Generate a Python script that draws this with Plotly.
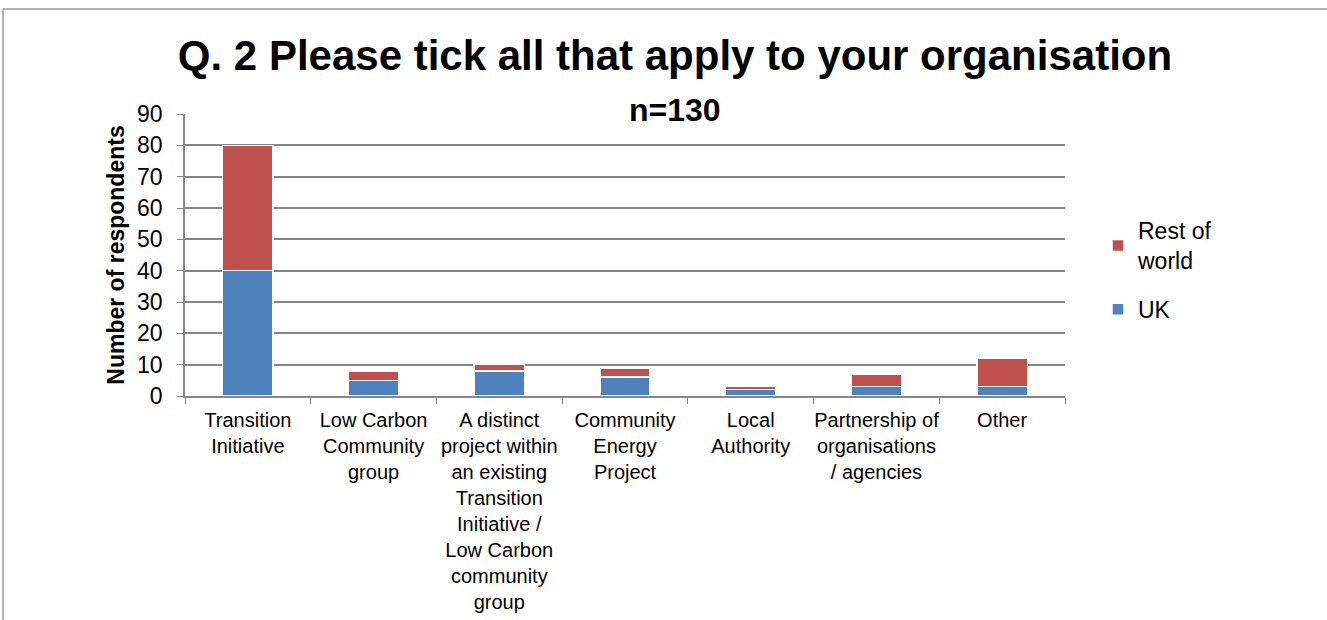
import plotly.graph_objects as go

# data
categories = ["Transition<br>Initiative", "Low Carbon<br>Community<br>group",
              "A distinct<br>project within<br>an existing<br>Transition<br>Initiative /<br>Low Carbon<br>community<br>group",
              "Community<br>Energy<br>Project", "Local<br>Authority",
              "Partnership of<br>organisations<br>/ agencies", "Other"]
uk = [40, 5, 8, 6, 2, 3, 3]
rest_of_world = [40, 3, 2, 3, 1, 4, 9]

W, H = 1327, 620
L, R, T, B = 185, 262, 114, 224
pw, ph = W - L - R, H - T - B

font = "Liberation Sans, Arial, sans-serif"

fig = go.Figure()
fig.add_bar(x=categories, y=uk, name="UK", legendgroup="uk", legendrank=2,
            marker=dict(color="#4F81BD", line=dict(color="white", width=1.5)))
fig.add_bar(x=categories, y=rest_of_world, name="Rest of<br>world", legendgroup="row", legendrank=1,
            marker=dict(color="#C0504D", line=dict(color="white", width=1.5)))

fig.update_layout(
    width=W, height=H, barmode="stack", bargap=0.6,
    margin=dict(l=L, r=R, t=T, b=B, autoexpand=False),
    paper_bgcolor="white", plot_bgcolor="white",
    font=dict(family=font, color="black"),
    title=dict(text="<b>Q. 2 Please tick all that apply to your organisation</b>",
               x=675 / W, xanchor="center", y=1 - 55 / H, yanchor="middle",
               font=dict(size=42, family=font)),
    legend=dict(x=(1098 - L) / pw, y=(396 - 209) / ph, xanchor="left", yanchor="top",
                traceorder="grouped", font=dict(size=23),
                tracegroupgap=16, bgcolor="rgba(0,0,0,0)"),
    showlegend=True,
)

fig.update_yaxes(range=[0, 90], dtick=10, showgrid=True, gridcolor="#868686", gridwidth=1.5,
                 showline=True, linecolor="#868686", linewidth=1.5, automargin=False,
                 ticks="outside", ticklen=6, tickcolor="#868686", ticklabelstandoff=10,
                 tickfont=dict(size=23), zeroline=False,
                 title=dict(text="<b>Number of respondents</b>", font=dict(size=23), standoff=6))
fig.update_xaxes(showline=True, linecolor="#868686", linewidth=1.5, automargin=False,
                 ticks="outside", ticklen=6, tickcolor="#868686", tickson="boundaries",
                 ticklabelstandoff=5, tickfont=dict(size=20), tickangle=0)

fig.add_annotation(text="<b>n=130</b>", xref="paper", yref="paper",
                   x=(675 - L) / pw, y=(396 - 110) / ph, xanchor="center", yanchor="middle",
                   showarrow=False, font=dict(size=32, family=font))

# outer chart frame
fig.add_shape(type="line", xref="paper", yref="paper",
              x0=(3 - L) / pw, x1=(W - L) / pw, y0=(396 - 9) / ph, y1=(396 - 9) / ph,
              line=dict(color="#9a9a9a", width=1.5))
fig.add_shape(type="line", xref="paper", yref="paper",
              x0=(3 - L) / pw, x1=(3 - L) / pw, y0=(396 - 9) / ph, y1=(396 - H) / ph,
              line=dict(color="#9a9a9a", width=1.5))

fig.write_html("out.html", config={"displayModeBar": False},
               post_script="document.body.style.margin='0';")
